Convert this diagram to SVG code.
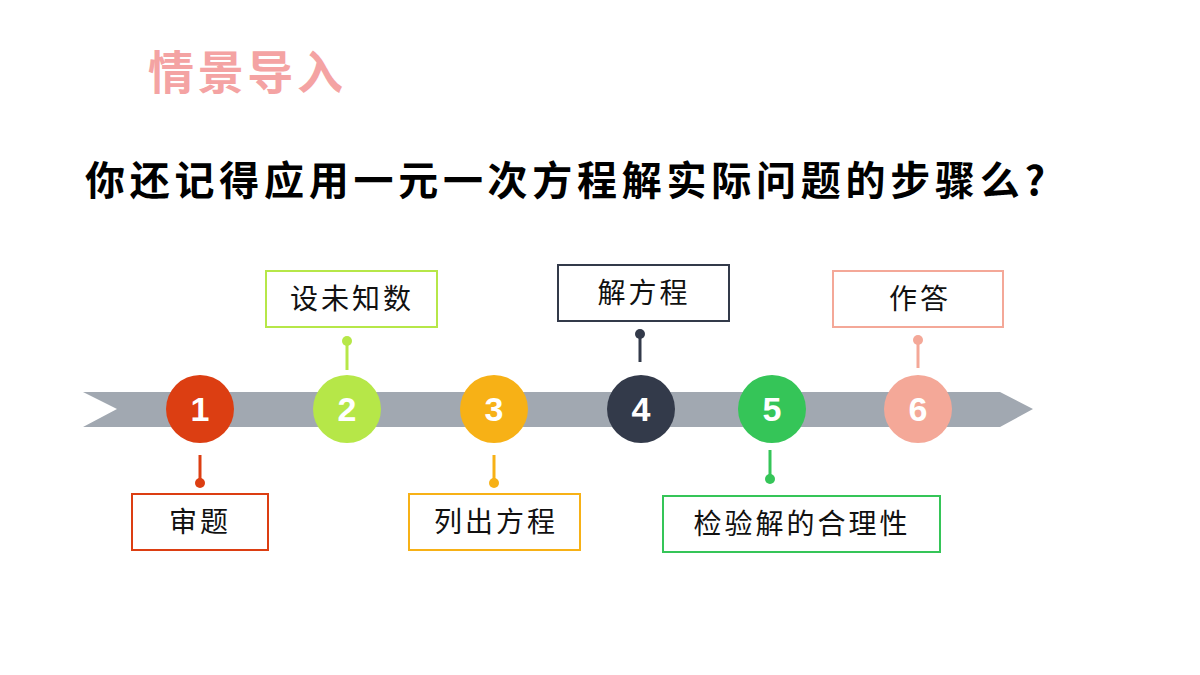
<svg xmlns="http://www.w3.org/2000/svg" width="1200" height="675" viewBox="0 0 1200 675">
<style>
.box{fill:#fff;stroke-width:2}
.lbl{font-family:"Noto Sans CJK SC",sans-serif;font-size:28px;text-anchor:middle;fill:#111;letter-spacing:3px}
.num{font-family:"Liberation Sans",Arial,sans-serif;font-size:34px;font-weight:bold;fill:#fff;text-anchor:middle}
.ln{stroke-width:3}
</style>
<rect width="1200" height="675" fill="#fff"/>
<text x="148" y="89" font-family="'Noto Sans CJK SC',sans-serif" font-size="46" font-weight="bold" fill="#f4a3a3" textLength="195">情景导入</text>
<text x="85" y="195" font-family="'Noto Sans CJK SC',sans-serif" font-size="40" font-weight="bold" fill="#000" textLength="960">你还记得应用一元一次方程解实际问题的步骤么?</text>
<polygon id="band" points="83,392 1000,392 1033,409 1000,427 83,427 117,409" fill="#a1a8b1"/>
<g id="connectors">
<line class="ln" x1="200" y1="455" x2="200" y2="483" stroke="#dc3e12"/><circle cx="200" cy="483" r="5" fill="#dc3e12"/>
<line class="ln" x1="347" y1="341" x2="347" y2="370" stroke="#b6e748"/><circle cx="347" cy="341" r="5" fill="#b6e748"/>
<line class="ln" x1="494" y1="455" x2="494" y2="483" stroke="#f7b116"/><circle cx="494" cy="483" r="5" fill="#f7b116"/>
<line class="ln" x1="640" y1="334" x2="640" y2="362" stroke="#333a4a"/><circle cx="640" cy="334" r="5" fill="#333a4a"/>
<line class="ln" x1="770" y1="450" x2="770" y2="479" stroke="#35c558"/><circle cx="770" cy="479" r="5" fill="#35c558"/>
<line class="ln" x1="918" y1="340" x2="918" y2="368" stroke="#f4a898"/><circle cx="918" cy="340" r="5" fill="#f4a898"/>
</g>
<g id="n1"><circle cx="200" cy="409" r="34" fill="#dc3e12"/><text class="num" x="200" y="421">1</text>
<rect class="box" x="132" y="494" width="136" height="56" stroke="#dc3e12"/><text class="lbl" x="200" y="532">审题</text></g>
<g id="n2"><circle cx="347" cy="409" r="34" fill="#b6e748"/><text class="num" x="347" y="421">2</text>
<rect class="box" x="266" y="271" width="171" height="56" stroke="#b6e748"/><text class="lbl" x="352" y="309">设未知数</text></g>
<g id="n3"><circle cx="494" cy="409" r="34" fill="#f7b116"/><text class="num" x="494" y="421">3</text>
<rect class="box" x="409" y="494" width="171" height="56" stroke="#f7b116"/><text class="lbl" x="496" y="532">列出方程</text></g>
<g id="n4"><circle cx="641" cy="409" r="34" fill="#333a4a"/><text class="num" x="641" y="421">4</text>
<rect class="box" x="558" y="265" width="171" height="56" stroke="#333a4a"/><text class="lbl" x="644" y="303">解方程</text></g>
<g id="n5"><circle cx="772" cy="409" r="34" fill="#35c558"/><text class="num" x="772" y="421">5</text>
<rect class="box" x="663" y="496" width="277" height="56" stroke="#35c558"/><text class="lbl" x="802" y="534">检验解的合理性</text></g>
<g id="n6"><circle cx="918" cy="409" r="34" fill="#f4a898"/><text class="num" x="918" y="421">6</text>
<rect class="box" x="833" y="271" width="170" height="56" stroke="#f4a898"/><text class="lbl" x="920" y="309">作答</text></g>
</svg>
